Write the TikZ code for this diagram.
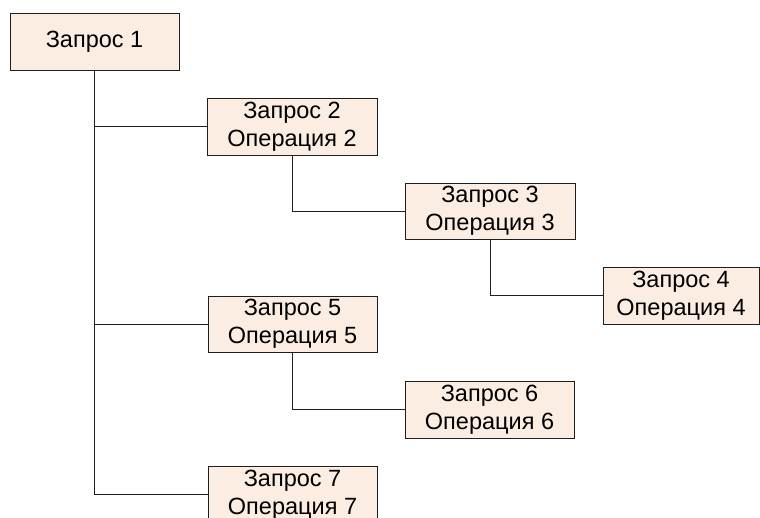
\documentclass[tikz,border=0pt]{standalone}
\usepackage{fontspec}
\setmainfont{Liberation Sans}
\definecolor{boxfill}{RGB}{252,237,226}
\definecolor{edgecol}{RGB}{30,30,30}
\begin{document}
\begin{tikzpicture}[x=1pt,y=1pt,
  qbox/.style={draw=edgecol,line width=1pt,fill=boxfill,rectangle,inner sep=0pt,
    minimum width=169pt,minimum height=57pt,align=center,
    font=\fontsize{23.5}{28}\selectfont},
  link/.style={draw=edgecol,line width=0.9pt}]
\useasboundingbox (0,0) rectangle (760,-517);
\fill[white] (0,0) rectangle (760,-517);
\node[qbox] (b1) at (94.5,-41.5) {Запрос 1};
\node[qbox,minimum width=170pt] (b2) at (292,-126.5) {Запрос 2\\Операция 2};
\node[qbox,minimum width=170pt,minimum height=56pt] (b3) at (490,-211) {Запрос 3\\Операция 3};
\node[qbox,minimum width=156pt] (b4) at (681,-295.5) {Запрос 4\\Операция 4};
\node[qbox,minimum height=56pt] (b5) at (292.5,-324) {Запрос 5\\Операция 5};
\node[qbox] (b6) at (489.5,-409.5) {Запрос 6\\Операция 6};
\node[qbox] (b7) at (292.5,-494.5) {Запрос 7\\Операция 7};
\draw[link] (b1.south) |- (b2.west);
\draw[link] (b1.south) |- (b5.west);
\draw[link] (b1.south) |- (b7.west);
\draw[link] (b2.south) |- (b3.west);
\draw[link] (b3.south) |- (b4.west);
\draw[link] (b5.south) |- (b6.west);
\end{tikzpicture}
\end{document}
